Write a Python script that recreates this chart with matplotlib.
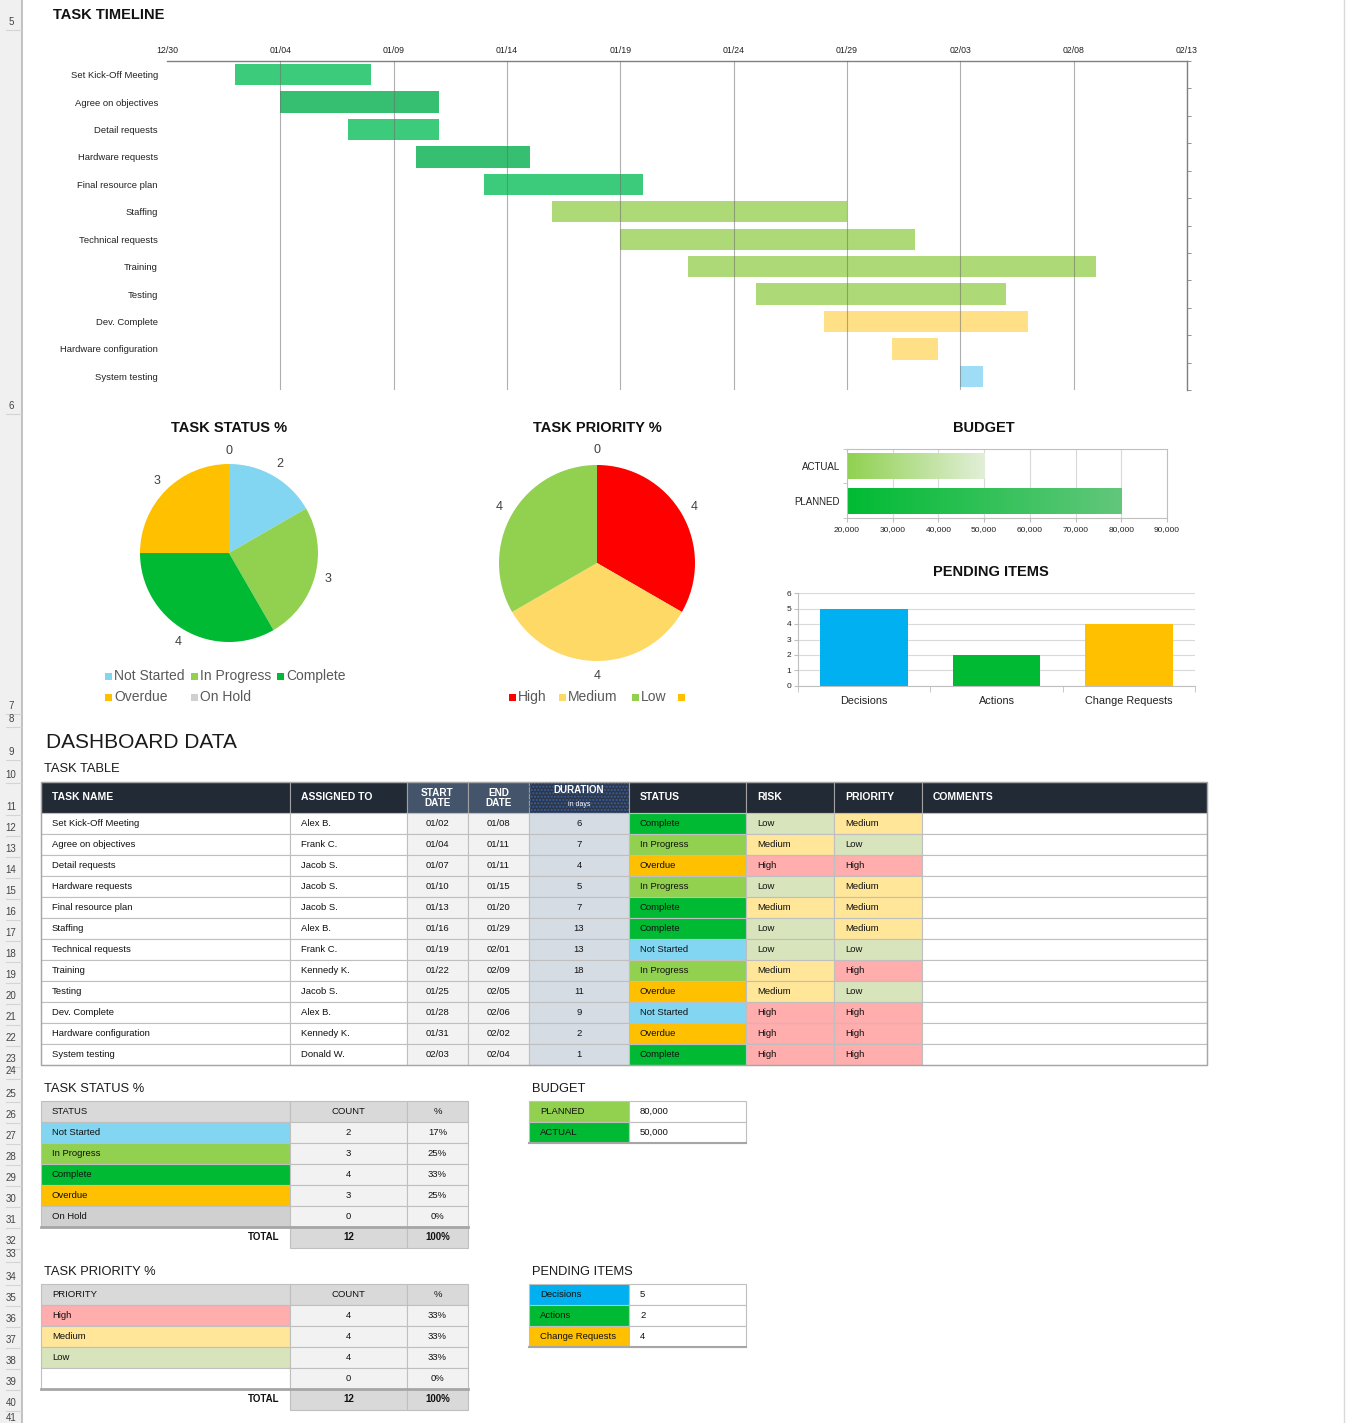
import numpy as np
import pandas as pd
import matplotlib
matplotlib.use('Agg')
import matplotlib.pyplot as plt
import matplotlib.dates as mdates
from matplotlib.patches import Rectangle
from matplotlib.colors import LinearSegmentedColormap

plt.rcParams['font.family'] = ['Liberation Sans', 'DejaVu Sans']

W, H = 1349, 1423

# ---------------- data ----------------
tasks = ['Set Kick-Off Meeting', 'Agree on objectives', 'Detail requests', 'Hardware requests',
         'Final resource plan', 'Staffing', 'Technical requests', 'Training', 'Testing',
         'Dev. Complete', 'Hardware configuration', 'System testing']
assigned = ['Alex B.', 'Frank C.', 'Jacob S.', 'Jacob S.', 'Jacob S.', 'Alex B.', 'Frank C.',
            'Kennedy K.', 'Jacob S.', 'Alex B.', 'Kennedy K.', 'Donald W.']
start_dates = ['01/02', '01/04', '01/07', '01/10', '01/13', '01/16', '01/19', '01/22',
               '01/25', '01/28', '01/31', '02/03']
end_dates = ['01/08', '01/11', '01/11', '01/15', '01/20', '01/29', '02/01', '02/09',
             '02/05', '02/06', '02/02', '02/04']
durations = [6, 7, 4, 5, 7, 13, 13, 18, 11, 9, 2, 1]
statuses = ['Complete', 'In Progress', 'Overdue', 'In Progress', 'Complete', 'Complete',
            'Not Started', 'In Progress', 'Overdue', 'Not Started', 'Overdue', 'Complete']
risks = ['Low', 'Medium', 'High', 'Low', 'Medium', 'Low', 'Low', 'Medium', 'Medium',
         'High', 'High', 'High']
priorities = ['Medium', 'Low', 'High', 'Medium', 'Medium', 'Medium', 'Low', 'High', 'Low',
              'High', 'High', 'High']
timeline_start, timeline_end = '12/30', '02/13'

status_names = ['Not Started', 'In Progress', 'Complete', 'Overdue', 'On Hold']
status_counts = [2, 3, 4, 3, 0]
priority_names = ['High', 'Medium', 'Low', '']
priority_counts = [4, 4, 4, 0]
budget_labels = ['PLANNED', 'ACTUAL']
budget_values = [80000, 50000]
pending_labels = ['Decisions', 'Actions', 'Change Requests']
pending_values = [5, 2, 4]

# ---------------- styles ----------------
bar_colors = ['#3CCB7B', '#36BE71', '#3CCB7B', '#36BE71', '#3CCB7B', '#ADDA77', '#ADDA77',
              '#ADDA77', '#ADDA77', '#FFE086', '#FFE086', '#9EDDF5']
status_fill = {'Not Started': '#82D6F1', 'In Progress': '#92D050', 'Complete': '#00BA33',
               'Overdue': '#FFC000', 'On Hold': '#D0D0D0'}
level_fill = {'Low': '#D8E4BC', 'Medium': '#FFE699', 'High': '#FFADAD', '': 'white'}
pie2_colors = ['#FF0000', '#FFD966', '#92D050', '#FFC000']
budget_fill = {'PLANNED': '#92D050', 'ACTUAL': '#00BA33'}
budget_grad = {'PLANNED': ['#00BB33', '#62C77C'], 'ACTUAL': ['#8FD14F', '#E2EFD9']}
pending_colors = ['#00B0F0', '#00BA33', '#FFC000']
GRID = '#BFBFBF'
TXT = 6.8


def to_date(s):
    m, d = s.split('/')
    return pd.Timestamp(year=2018 if m == '12' else 2019, month=int(m), day=int(d))


def rect(x0, y0, x1, y1):
    return [x0 / W, 1 - y1 / H, (x1 - x0) / W, (y1 - y0) / H]


fig = plt.figure(figsize=(W / 100, H / 100), dpi=100)
bg = fig.add_axes([0, 0, 1, 1])
bg.set_xlim(0, W)
bg.set_ylim(H, 0)
bg.axis('off')


def cell(x0, y0, x1, y1, fc, ec=GRID, lw=0.8, **kw):
    bg.add_patch(Rectangle((x0, y0), x1 - x0, y1 - y0, facecolor=fc, edgecolor=ec,
                           linewidth=lw, **kw))


# spreadsheet gutter
bg.add_patch(Rectangle((0, 0), 22, H, facecolor='#F0F0F0', edgecolor='none'))
bg.plot([22, 22], [0, H], color='#BDBDBD', lw=1.3)
bg.plot([1344, 1344], [0, H], color='#DADADA', lw=1)
row_nums = list(range(5, 42))
row_y = [22, 406, 706, 719, 752, 775, 807] + [828 + 21 * k for k in range(12)] + \
        [1071, 1094, 1115, 1136, 1157, 1178, 1199, 1220, 1241, 1254, 1277, 1298, 1319,
         1340, 1361, 1382, 1403, 1418]
for n, y in zip(row_nums, row_y):
    bg.text(11, y, str(n), ha='center', va='center', fontsize=7, color='#444444')
    bg.plot([6, 21], [y + 8, y + 8], color='#D4D4D4', lw=0.8)

# ---------------- task timeline ----------------
bg.text(53, 15, 'TASK TIMELINE', fontsize=10.5, fontweight='bold', va='center', color='#111111')
gx = fig.add_axes(rect(167, 61, 1187, 390))
starts = mdates.date2num([to_date(s) for s in start_dates])
ends = mdates.date2num([to_date(s) for s in end_dates])
gx.barh(np.arange(len(tasks)), ends - starts, left=starts, height=0.78, color=bar_colors, zorder=1)
gx.set_xlim(mdates.date2num(to_date(timeline_start)), mdates.date2num(to_date(timeline_end)))
gx.set_ylim(len(tasks) - 0.5, -0.5)
ticks = pd.date_range(to_date(timeline_start), to_date(timeline_end), freq='5D')
gx.set_xticks(mdates.date2num(ticks))
gx.xaxis.set_major_formatter(mdates.DateFormatter('%m/%d'))
gx.xaxis.tick_top()
gx.tick_params(axis='x', length=0, labelsize=6.3, pad=4, labelcolor='#222222')
gx.set_axisbelow(False)
gx.grid(axis='x', color='#6E6E6E', alpha=0.55, lw=0.8)
gx.xaxis.get_gridlines()[0].set_visible(False)
gx.set_yticks(np.arange(len(tasks)))
gx.set_yticklabels(tasks, fontsize=6.8, color='#222222')
gx.set_yticks(np.arange(-0.5, len(tasks), 1), minor=True)
gx.tick_params(axis='y', which='major', length=0, pad=6.5)
gx.tick_params(axis='y', which='minor', left=False, right=True, length=3, color='#808080')
for side in ['left', 'bottom']:
    gx.spines[side].set_visible(False)
for side in ['top', 'right']:
    gx.spines[side].set_color('#808080')
    gx.spines[side].set_linewidth(1)

# ---------------- pies ----------------
def draw_pie(cx, cy, r, counts, colors, title):
    half = 120
    ax = fig.add_axes(rect(cx - half, cy - half, cx + half, cy + half))
    _, texts = ax.pie(counts, colors=colors, startangle=90, counterclock=False,
                      labels=[str(c) for c in counts], labeldistance=1.15,
                      textprops=dict(fontsize=9, color='#404040'),
                      wedgeprops=dict(linewidth=0))
    for t in texts:
        t.set_ha('center')
    lim = half / r
    ax.set_xlim(-lim, lim)
    ax.set_ylim(-lim, lim)
    bg.text(cx, 428, title, ha='center', va='center', fontsize=10.5, fontweight='bold',
            color='#111111')


draw_pie(229, 553, 89, status_counts, [status_fill[s] for s in status_names], 'TASK STATUS %')
draw_pie(597, 563, 98, priority_counts, pie2_colors, 'TASK PRIORITY %')


def legend_item(x, y, color, label):
    cell(x, y - 3.5, x + 7, y + 3.5, color, ec='none', lw=0)
    if label:
        bg.text(x + 9, y, label, va='center', fontsize=10, color='#595959')


status_leg_pos = [(105, 676), (191, 676), (277, 676), (105, 697), (191, 697)]
for (x, y), name in zip(status_leg_pos, status_names):
    legend_item(x, y, status_fill[name], name)
prio_leg_pos = [(509, 697), (559, 697), (632, 697), (678, 697)]
for (x, y), name, c in zip(prio_leg_pos, priority_names, pie2_colors):
    legend_item(x, y, c, name)

# ---------------- budget chart ----------------
bg.text(984, 428, 'BUDGET', ha='center', va='center', fontsize=10.5, fontweight='bold',
        color='#111111')
bx = fig.add_axes(rect(847, 449, 1167, 518))
ypos = np.arange(len(budget_labels))
bars = bx.barh(ypos, budget_values, height=0.76, color='none', zorder=2)
xmin, xmax = 20000, 90000
for b, lab, val in zip(bars, budget_labels, budget_values):
    cmap = LinearSegmentedColormap.from_list(lab, budget_grad[lab])
    y0 = b.get_y()
    im = bx.imshow(np.linspace(0, 1, 256).reshape(1, -1), cmap=cmap, aspect='auto',
                   extent=(xmin, val, y0, y0 + b.get_height()), zorder=2)
    im.set_clip_path(b)
bx.set_xlim(xmin, xmax)
bx.set_ylim(-0.5, len(budget_labels) - 0.5)
bx.set_xticks(np.arange(xmin, xmax + 1, 10000))
bx.set_xticklabels(['{:,}'.format(v) for v in range(xmin, xmax + 1, 10000)], fontsize=6,
                   color='#222222')
bx.set_yticks(ypos)
bx.set_yticklabels(budget_labels, fontsize=7, color='#222222')
bx.set_yticks(np.arange(-0.5, len(budget_labels), 1), minor=True)
bx.tick_params(axis='y', which='major', length=0, pad=5)
bx.tick_params(axis='y', which='minor', length=3, color=GRID)
bx.tick_params(axis='x', length=3, color=GRID, pad=3)
bx.grid(axis='x', color='#D9D9D9', lw=0.8, zorder=0)
bx.set_axisbelow(True)
for s in bx.spines.values():
    s.set_color(GRID)

# ---------------- pending items chart ----------------
bg.text(991, 572, 'PENDING ITEMS', ha='center', va='center', fontsize=10.5, fontweight='bold',
        color='#111111')
px = fig.add_axes(rect(798, 593, 1195, 686))
xpos = np.arange(len(pending_labels))
px.bar(xpos, pending_values, width=0.66, color=pending_colors, zorder=2)
px.set_xlim(-0.5, len(pending_labels) - 0.5)
px.set_ylim(0, 6)
px.set_yticks(range(7))
px.tick_params(axis='y', labelsize=6, length=3, color=GRID, pad=2, labelcolor='#222222')
px.set_xticks(xpos)
px.set_xticklabels(pending_labels, fontsize=7.8, color='#222222')
px.set_xticks(np.arange(-0.5, len(pending_labels), 1), minor=True)
px.tick_params(axis='x', which='major', length=0, pad=7)
px.tick_params(axis='x', which='minor', length=4, color=GRID)
px.grid(axis='y', color='#D9D9D9', lw=0.8)
px.set_axisbelow(True)
for side in ['top', 'right']:
    px.spines[side].set_visible(False)
for side in ['left', 'bottom']:
    px.spines[side].set_color(GRID)

# ---------------- task table ----------------
bg.text(46, 742, 'DASHBOARD DATA', fontsize=15, va='center', color='#1A1A1A')
bg.text(44, 769, 'TASK TABLE', fontsize=9.3, va='center', color='#1A1A1A')
col_x = [41, 290, 407, 468, 529, 629, 746, 834, 922, 1207]
hdr_fill = ['#222A35', '#222A35', '#44546A', '#44546A', '#2C384A', '#222A35', '#222A35',
            '#222A35', '#222A35']
hdr_text = ['TASK NAME', 'ASSIGNED TO', 'START\nDATE', 'END\nDATE', 'DURATION', 'STATUS',
            'RISK', 'PRIORITY', 'COMMENTS']
hdr_center = [False, False, True, True, True, False, False, False, False]
top, row_h = 782, 21
hdr_bot = 813
for i in range(9):
    x0, x1 = col_x[i], col_x[i + 1]
    cell(x0, top, x1, hdr_bot, hdr_fill[i], ec='#A0A0A0', lw=0.8)
    if i == 4:
        cell(x0, top, x1, hdr_bot, 'none', ec='#3B5C9C', lw=0, hatch='.....')
        bg.text((x0 + x1) / 2, 790, 'DURATION', ha='center', va='center', fontsize=7,
                fontweight='bold', color='white')
        bg.text((x0 + x1) / 2, 804, 'in days', ha='center', va='center', fontsize=5,
                color='white')
    elif hdr_center[i]:
        bg.text((x0 + x1) / 2, (top + hdr_bot) / 2, hdr_text[i], ha='center', va='center',
                fontsize=7.2, fontweight='bold', color='white', linespacing=1.0)
    else:
        bg.text(x0 + 11, (top + hdr_bot) / 2, hdr_text[i], va='center', fontsize=7.5,
                fontweight='bold', color='white')

for r in range(len(tasks)):
    y0 = hdr_bot + r * row_h
    y1 = y0 + row_h
    yc = (y0 + y1) / 2
    vals = [tasks[r], assigned[r], start_dates[r], end_dates[r], str(durations[r]),
            statuses[r], risks[r], priorities[r], '']
    fills = ['white', 'white', '#F2F2F2', '#F2F2F2', '#D6DCE4', status_fill[statuses[r]],
             level_fill[risks[r]], level_fill[priorities[r]], 'white']
    for i in range(9):
        x0, x1 = col_x[i], col_x[i + 1]
        cell(x0, y0, x1, y1, fills[i])
        if hdr_center[i]:
            bg.text((x0 + x1) / 2, yc, vals[i], ha='center', va='center', fontsize=TXT,
                    color='#111111')
        else:
            bg.text(x0 + 11, yc, vals[i], va='center', fontsize=TXT, color='#111111')
bg.add_patch(Rectangle((col_x[0], top), col_x[-1] - col_x[0],
                       hdr_bot + len(tasks) * row_h - top, facecolor='none',
                       edgecolor='#A6A6A6', lw=1))


# ---------------- summary tables ----------------
def summary_table(title, top, header, names, counts, fills):
    bg.text(44, top - 12, title, fontsize=9.3, va='center', color='#1A1A1A')
    cx = [41, 290, 407, 468]
    cell(cx[0], top, cx[1], top + row_h, '#D9D9D9')
    cell(cx[1], top, cx[2], top + row_h, '#D9D9D9')
    cell(cx[2], top, cx[3], top + row_h, '#D9D9D9')
    yc = top + row_h / 2
    bg.text(52, yc, header, va='center', fontsize=TXT, color='#111111')
    bg.text((cx[1] + cx[2]) / 2, yc, 'COUNT', ha='center', va='center', fontsize=TXT,
            color='#111111')
    bg.text((cx[2] + cx[3]) / 2, yc, '%', ha='center', va='center', fontsize=TXT,
            color='#111111')
    total = sum(counts)
    for k, (nm, c, fc) in enumerate(zip(names, counts, fills)):
        y0 = top + row_h * (k + 1)
        yc = y0 + row_h / 2
        cell(cx[0], y0, cx[1], y0 + row_h, fc)
        cell(cx[1], y0, cx[2], y0 + row_h, '#F2F2F2')
        cell(cx[2], y0, cx[3], y0 + row_h, '#F2F2F2')
        bg.text(52, yc, nm, va='center', fontsize=TXT, color='#111111')
        bg.text((cx[1] + cx[2]) / 2, yc, str(c), ha='center', va='center', fontsize=TXT,
                color='#111111')
        bg.text((cx[2] + cx[3]) / 2, yc, '{}%'.format(round(c / total * 100)), ha='center',
                va='center', fontsize=TXT, color='#111111')
    y0 = top + row_h * (len(names) + 1)
    yc = y0 + row_h / 2
    cell(cx[1], y0, cx[2], y0 + row_h, '#D9D9D9')
    cell(cx[2], y0, cx[3], y0 + row_h, '#D9D9D9')
    bg.plot([cx[0], cx[3]], [y0, y0], color='#A6A6A6', lw=2)
    bg.text(279, yc, 'TOTAL', ha='right', va='center', fontsize=7, fontweight='bold',
            color='#111111')
    bg.text((cx[1] + cx[2]) / 2, yc, str(total), ha='center', va='center', fontsize=7,
            fontweight='bold', color='#111111')
    bg.text((cx[2] + cx[3]) / 2, yc, '{}%'.format(round(sum(counts) / total * 100)),
            ha='center', va='center', fontsize=7, fontweight='bold', color='#111111')


summary_table('TASK STATUS %', 1101, 'STATUS', status_names, status_counts,
              [status_fill[s] for s in status_names])
summary_table('TASK PRIORITY %', 1284, 'PRIORITY', priority_names, priority_counts,
              [level_fill[p] for p in priority_names])


def pair_table(title, top, labels, values, fills):
    bg.text(532, top - 12, title, fontsize=9.3, va='center', color='#1A1A1A')
    for k, (lab, v, fc) in enumerate(zip(labels, values, fills)):
        y0 = top + row_h * k
        yc = y0 + row_h / 2
        cell(529, y0, 629, y0 + row_h, fc)
        cell(629, y0, 746, y0 + row_h, 'white')
        bg.text(540, yc, lab, va='center', fontsize=TXT, color='#111111')
        bg.text(640, yc, '{:,}'.format(v), va='center', fontsize=TXT, color='#111111')
    yb = top + row_h * len(labels)
    bg.plot([529, 746], [yb, yb], color='#A6A6A6', lw=1.5)


pair_table('BUDGET', 1101, budget_labels, budget_values, [budget_fill[b] for b in budget_labels])
pair_table('PENDING ITEMS', 1284, pending_labels, pending_values, pending_colors)

fig.savefig('out.png', dpi=100)
